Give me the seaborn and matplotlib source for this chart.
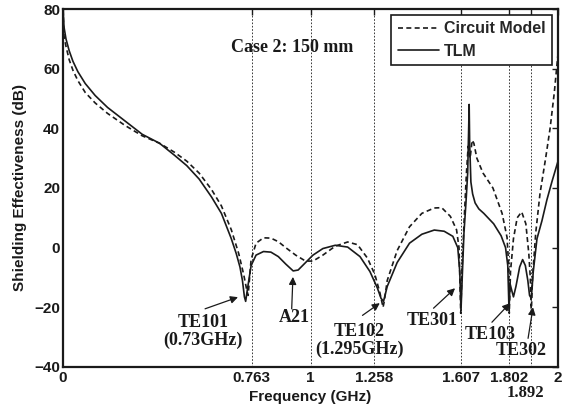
import numpy as np
import pandas as pd
import seaborn as sns
import matplotlib.pyplot as plt
from matplotlib.transforms import ScaledTranslation

sns.set_theme(style='white')
plt.rcParams['font.family'] = ['Liberation Sans', 'DejaVu Sans']
plt.rcParams['font.weight'] = 'bold'

# TLM (solid)
tlm_freq = [0, 0.004, 0.012, 0.025, 0.04, 0.06, 0.09, 0.13, 0.18, 0.25, 0.32, 0.39, 0.45, 0.50, 0.55,
            0.60, 0.64, 0.68, 0.70, 0.715, 0.725, 0.733, 0.738, 0.745, 0.76, 0.78, 0.81, 0.84, 0.87,
            0.90, 0.93, 0.95, 0.98, 1.01, 1.05, 1.10, 1.15, 1.20, 1.24, 1.27, 1.285, 1.295, 1.31,
            1.35, 1.40, 1.45, 1.50, 1.54, 1.575, 1.595, 1.603, 1.608, 1.613, 1.62, 1.628, 1.635,
            1.639, 1.641, 1.643, 1.648, 1.655, 1.665, 1.68, 1.70, 1.74, 1.77, 1.788, 1.797, 1.802,
            1.806, 1.812, 1.82, 1.83, 1.845, 1.857, 1.868, 1.878, 1.885, 1.892, 1.90, 1.915, 1.935,
            1.955, 1.975, 2.0]
tlm_se = [80, 74, 70, 66, 62.5, 59, 55, 51, 47, 42.5, 38, 35, 31, 27.5, 23,
          17, 11.5, 3, -2, -6.5, -11, -16.5, -18, -14, -6, -2.5, -1.3, -1.5, -3,
          -5.5, -7.8, -7.5, -5, -2.5, -0.3, 0.8, 0.2, -3, -8, -13.5, -17, -18, -13,
          -5, 1.5, 4.5, 5.9, 5.5, 3.8, 0, -8, -21, -10, 5, 15, 25,
          40, 48, 35, 22, 18, 15, 13, 11.5, 8, 4, 0, -6, -21,
          -12, -14, -16.5, -13, -6.5, -4, -6, -11, -16, -17, -8, 3, 9,
          16, 22, 29]

# Circuit model (dashed)
cm_freq = [0, 0.004, 0.012, 0.025, 0.04, 0.06, 0.09, 0.13, 0.18, 0.25, 0.32, 0.39, 0.45, 0.50, 0.55,
           0.60, 0.64, 0.68, 0.71, 0.73, 0.742, 0.748, 0.752, 0.76, 0.78, 0.81, 0.84, 0.87, 0.90,
           0.94, 0.98, 1.01, 1.05, 1.10, 1.15, 1.19, 1.23, 1.26, 1.28, 1.293, 1.298, 1.31, 1.35,
           1.40, 1.45, 1.50, 1.53, 1.565, 1.59, 1.60, 1.607, 1.612, 1.62, 1.63, 1.637, 1.645,
           1.653, 1.66, 1.672, 1.697, 1.737, 1.774, 1.794, 1.800, 1.803, 1.808, 1.82, 1.835,
           1.853, 1.87, 1.882, 1.888, 1.892, 1.897, 1.91, 1.927, 1.95, 1.968, 1.985, 2.0]
cm_se = [80, 71, 67.5, 63, 59.5, 56, 52, 48.5, 45, 41, 37.5, 35, 32, 29, 25,
         19.5, 14, 6, -2, -9, -14, -16, -12, -4, 1.5, 3.3, 3.2, 2, 0,
         -2.5, -4.5, -4.5, -2.5, 0.5, 1.9, 1, -3.5, -9, -15, -20, -18, -11, -1,
         7, 11.5, 13.3, 13.4, 10.5, 6, 0, -22, -8, 8, 25, 34, 30,
         36, 35, 30, 25, 20, 11.5, 3.5, -5, -22, -8, 3, 10,
         12, 8, -2, -10, -22, -10, 5, 18, 30, 40, 52, 65]

xticks = [0, 0.763, 1, 1.258, 1.607, 1.802, 1.892, 2]
xlabels = ['0', '0.763', '1', '1.258', '1.607', '1.802', '1.892', '2']
yticks = [-40, -20, 0, 20, 40, 60, 80]

fig = plt.figure(figsize=(5.66, 4.11), dpi=100)
ax = fig.add_axes([0.1113, 0.1071, 0.8746, 0.8710])

sns.lineplot(x=cm_freq, y=cm_se, ax=ax, color='k', linewidth=1.2, linestyle=(0, (3, 2)),
             label='Circuit Model', sort=False)
sns.lineplot(x=tlm_freq, y=tlm_se, ax=ax, color='k', linewidth=1.2, label='TLM', sort=False)

ax.set_xlim(0, 2)
ax.set_ylim(-40, 80)
ax.set_xticks(xticks)
ax.set_xticklabels(xlabels)
ax.set_yticks(yticks)
ax.tick_params(direction='in', length=4, width=1, top=True, right=True, labelsize=11,
               colors='k', pad=3)
ax.tick_params(axis='y', pad=2)
ax.xaxis.grid(True, linestyle=(0, (2, 2)), color='k', linewidth=0.6)
ax.yaxis.grid(False)
for s in ax.spines.values():
    s.set_linewidth(1.6)
    s.set_color('k')

# 1.892 label sits lower, in serif
t = ax.xaxis.get_major_ticks()[6]
t.set_pad(13)
t.label1.set_fontfamily('Liberation Serif')
t.label1.set_fontsize(12)
t.label1.set_transform(t.label1.get_transform() + ScaledTranslation(-0.06, 0, fig.dpi_scale_trans))

ax.set_xlabel('Frequency (GHz)', fontsize=11, fontweight='bold', color='k')
ax.set_ylabel('Shielding Effectiveness (dB)', fontsize=11, fontweight='bold', color='k')
ax.xaxis.set_label_coords(0.5, -0.063)
ax.yaxis.set_label_coords(-0.073, 0.5)

leg = ax.legend(loc='upper right', bbox_to_anchor=(0.988, 0.983), frameon=True, fancybox=False,
                edgecolor='k', framealpha=1, handlelength=2.6, handletextpad=0.3, borderpad=0.4,
                labelspacing=0.45, borderaxespad=0, prop={'weight': 'bold', 'size': 11.5})
leg.get_frame().set_linewidth(1.2)

serif = dict(family='Liberation Serif', weight='bold', size=13, color='k')
ax.text(0.925, 67, 'Case 2: 150 mm', ha='center', va='center', fontdict=serif)

# mode labels: text, text pos, arrow tail, arrow tip
modes = [
    ('TE101\n(0.73GHz)', (0.566, -28.2), (0.574, -20.5), (0.707, -16.6)),
    ('A21', (0.933, -23.5), (0.924, -20.5), (0.929, -9.8)),
    ('TE102\n(1.295GHz)', (1.196, -31), (1.21, -22.7), (1.28, -18.6)),
    ('TE301', (1.49, -24.3), (1.497, -20.3), (1.584, -13.6)),
    ('TE103', (1.725, -29), (1.733, -25), (1.806, -18.6)),
    ('TE302', (1.85, -34.4), (1.879, -30.4), (1.899, -20)),
]
for label, pos, tail, tip in modes:
    ax.text(pos[0], pos[1], label, ha='center', va='center', linespacing=1.05, fontdict=serif)
    ax.annotate('', xy=tip, xytext=tail,
                arrowprops=dict(arrowstyle='-|>', color='k', lw=0.9, mutation_scale=11,
                                shrinkA=0, shrinkB=0))

fig.savefig('out.png', dpi=100)
